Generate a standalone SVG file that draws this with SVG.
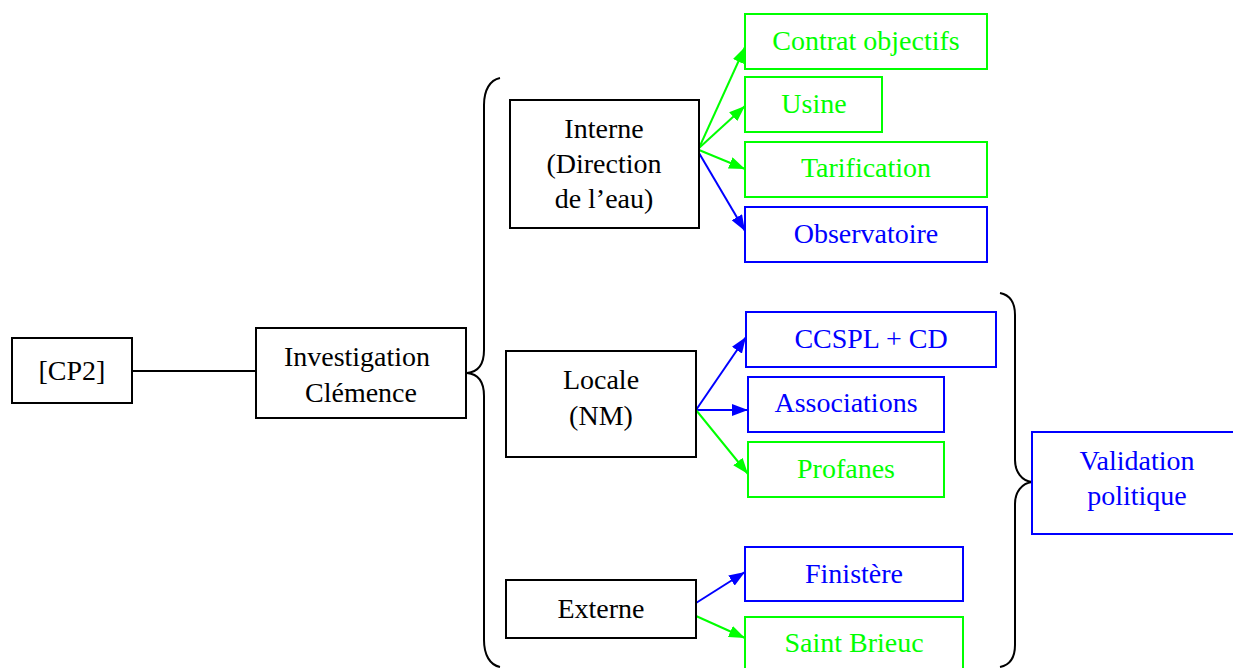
<svg xmlns="http://www.w3.org/2000/svg" width="1233" height="668" viewBox="0 0 1233 668">
<defs>
<style>
.bk{fill:#fff;stroke:#000;stroke-width:2}
.gb{fill:#fff;stroke:#00ff00;stroke-width:2}
.bb{fill:#fff;stroke:#0000ff;stroke-width:2}
.tk{fill:#000}
.tg{fill:#00ff00}
.tb{fill:#0000ff}
.lg{stroke:#00ff00;stroke-width:2;fill:none}
.lb{stroke:#0000ff;stroke-width:2;fill:none}
.lk{stroke:#000;stroke-width:2;fill:none}
</style>
<marker id="ag" viewBox="0 0 16 12" refX="16" refY="6" markerWidth="16" markerHeight="12" markerUnits="userSpaceOnUse" orient="auto"><path d="M0,0 L16,6 L0,12 Z" fill="#00ff00"/></marker>
<marker id="ab" viewBox="0 0 16 12" refX="16" refY="6" markerWidth="16" markerHeight="12" markerUnits="userSpaceOnUse" orient="auto"><path d="M0,0 L16,6 L0,12 Z" fill="#0000ff"/></marker>
</defs>
<rect width="1233" height="668" fill="#fff"/>
<g id="connectors">
<line class="lk" x1="132" y1="371" x2="256" y2="371"/>
<path class="lk" d="M500 78 C490 80 484 90 484 105 L484 350 C484 365 478 372 467 373 C478 374 484 381 484 396 L484 640 C484 655 490 665 500 667"/>
<path class="lk" d="M1000 293 C1010 295 1015 303 1015 315 L1015 460 C1015 472 1022 481 1032 482 C1022 483 1015 492 1015 504 L1015 645 C1015 657 1010 665 1000 667"/>
<line class="lg" x1="699" y1="148" x2="745" y2="47" marker-end="url(#ag)"/>
<line class="lg" x1="699" y1="148" x2="745" y2="106" marker-end="url(#ag)"/>
<line class="lg" x1="699" y1="150" x2="745" y2="169" marker-end="url(#ag)"/>
<line class="lb" x1="699" y1="153" x2="745" y2="231" marker-end="url(#ab)"/>
<line class="lb" x1="696" y1="410" x2="746" y2="337" marker-end="url(#ab)"/>
<line class="lb" x1="696" y1="410" x2="748" y2="410" marker-end="url(#ab)"/>
<line class="lg" x1="696" y1="410" x2="748" y2="474" marker-end="url(#ag)"/>
<line class="lb" x1="696" y1="603" x2="745" y2="572" marker-end="url(#ab)"/>
<line class="lg" x1="696" y1="616" x2="745" y2="638" marker-end="url(#ag)"/>
</g>
<g font-family="Liberation Serif" font-size="28" text-anchor="middle">
<g id="cp2"><rect class="bk" x="12" y="338" width="120" height="65"/><text class="tk" x="72" y="380">[CP2]</text></g>
<g id="investigation"><rect class="bk" x="256" y="328" width="210" height="90"/><text class="tk" x="357" y="366">Investigation</text><text class="tk" x="361" y="402">Clémence</text></g>
<g id="interne"><rect class="bk" x="510" y="100" width="189" height="128"/><text class="tk" x="604" y="138">Interne</text><text class="tk" x="604" y="173">(Direction</text><text class="tk" x="604" y="208">de l’eau)</text></g>
<g id="locale"><rect class="bk" x="506" y="351" width="190" height="106"/><text class="tk" x="601" y="389">Locale</text><text class="tk" x="601" y="425">(NM)</text></g>
<g id="externe"><rect class="bk" x="506" y="580" width="190" height="58"/><text class="tk" x="601" y="618">Externe</text></g>
<g id="contrat"><rect class="gb" x="745" y="14" width="242" height="55"/><text class="tg" x="866" y="50">Contrat objectifs</text></g>
<g id="usine"><rect class="gb" x="745" y="77" width="137" height="55"/><text class="tg" x="814" y="113">Usine</text></g>
<g id="tarification"><rect class="gb" x="745" y="142" width="242" height="55"/><text class="tg" x="866" y="177">Tarification</text></g>
<g id="observatoire"><rect class="bb" x="745" y="207" width="242" height="55"/><text class="tb" x="866" y="243">Observatoire</text></g>
<g id="ccspl"><rect class="bb" x="746" y="312" width="250" height="55"/><text class="tb" x="871" y="348">CCSPL + CD</text></g>
<g id="associations"><rect class="bb" x="748" y="377" width="196" height="55"/><text class="tb" x="846" y="412">Associations</text></g>
<g id="profanes"><rect class="gb" x="748" y="442" width="196" height="55"/><text class="tg" x="846" y="478">Profanes</text></g>
<g id="finistere"><rect class="bb" x="745" y="547" width="218" height="54"/><text class="tb" x="854" y="583">Finistère</text></g>
<g id="saintbrieuc"><rect class="gb" x="745" y="617" width="218" height="60"/><text class="tg" x="854" y="652">Saint Brieuc</text></g>
<g id="validation"><rect class="bb" x="1032" y="432" width="210" height="102"/><text class="tb" x="1137" y="470">Validation</text><text class="tb" x="1137" y="505">politique</text></g>
</g>
</svg>
